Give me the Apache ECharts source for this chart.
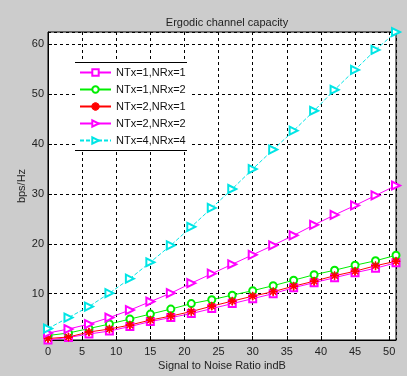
<!DOCTYPE html>
<html>
<head>
<meta charset="utf-8">
<script src="https://cdn.jsdelivr.net/npm/echarts@6/dist/echarts.min.js"></script>
<style>
  html, body { margin: 0; padding: 0; background: #cccccc; }
  #chart { width: 407px; height: 376px; }
</style>
</head>
<body>
<div id="chart"></div>
<script>
// SNR points (dB)
const snr = [0, 3, 6, 9, 12, 15, 18, 21, 24, 27, 30, 33, 36, 39, 42, 45, 48, 51];

// capacity (bps/Hz)
const cap1x1 = [0.7, 1.2, 1.9, 2.5, 3.4, 4.4, 5.2, 6.0, 7.0, 8.0, 9.0, 10.0, 11.2, 12.2, 13.2, 14.2, 15.1, 16.2];
const cap1x2 = [1.6, 2.1, 3.0, 3.9, 4.9, 5.9, 6.9, 8.0, 8.8, 9.7, 10.6, 11.6, 12.7, 13.8, 14.7, 15.7, 16.6, 17.7];
const cap2x1 = [1.0, 1.3, 2.3, 2.9, 3.7, 4.7, 5.5, 6.4, 7.5, 8.5, 9.5, 10.4, 11.5, 12.5, 13.6, 14.5, 15.6, 16.5];
const cap2x2 = [2.1, 2.9, 3.9, 5.2, 6.7, 8.4, 10.1, 12.1, 14.0, 15.9, 17.8, 19.7, 21.7, 23.8, 25.8, 27.7, 29.7, 31.7];
const cap4x4 = [3.0, 5.2, 7.4, 10.1, 13.0, 16.3, 19.7, 23.4, 27.2, 31.0, 35.0, 38.9, 42.7, 46.7, 50.9, 54.9, 58.9, 62.5];

const seriesNames = ['NTx=1,NRx=1', 'NTx=1,NRx=2', 'NTx=2,NRx=1', 'NTx=2,NRx=2', 'NTx=4,NRx=4'];
const seriesColors = ['#ff00ff', '#00ee00', '#ff0000', '#ff00ff', '#00e5e5'];

const font = '"Liberation Sans", Arial, sans-serif';
// asterisk marker: plus + cross as thin filled bars
const star = 'path://M4.5,0 L5.5,0 L5.5,4.5 L10,4.5 L10,5.5 L5.5,5.5 L5.5,10 L4.5,10 L4.5,5.5 L0,5.5 L0,4.5 L4.5,4.5 Z '
    + 'M1.2,1.9 L1.9,1.2 L8.8,8.1 L8.1,8.8 Z M8.1,1.2 L8.8,1.9 L1.9,8.8 L1.2,8.1 Z';

const pairs = ys => snr.map((x, i) => [x, ys[i]]);

// one line series
const mkSeries = (idx, ys, symbol, size, rotate, lineType) => ({
    name: seriesNames[idx],
    type: 'line',
    data: pairs(ys),
    symbol: symbol,
    symbolSize: size,
    symbolRotate: rotate,
    showSymbol: true,
    lineStyle: { color: seriesColors[idx], width: 1, type: lineType },
    itemStyle: { color: seriesColors[idx], borderColor: seriesColors[idx], borderWidth: 1 },
    emphasis: { disabled: true },
    animation: false
});

let myChart = echarts.init(document.getElementById('chart'));
myChart.setOption({
    backgroundColor: '#cccccc',
    title: {
        text: 'Ergodic channel capacity',
        left: 222,
        top: 12,
        textAlign: 'center',
        textStyle: { fontFamily: font, fontSize: 11, fontWeight: 'normal', color: '#222' }
    },
    grid: {
        left: 48, right: 11, top: 32, bottom: 35,
        show: true,
        backgroundColor: '#fff',
        borderColor: '#000',
        borderWidth: 1
    },
    legend: {
        orient: 'vertical',
        left: 75,
        top: 63,
        padding: [4, 4, 5, 4],
        itemGap: 6,
        itemWidth: 31,
        itemHeight: 8,
        backgroundColor: '#fff',
        data: seriesNames,
        textStyle: { fontFamily: font, fontSize: 11, color: '#111' }
    },
    xAxis: {
        type: 'value',
        min: 0,
        max: 51,
        interval: 5,
        name: 'Signal to Noise Ratio indB',
        nameLocation: 'middle',
        nameGap: 20,
        nameMoveOverlap: false,
        nameTextStyle: { fontFamily: font, fontSize: 11, color: '#222' },
        axisLine: { show: true, lineStyle: { color: '#000' } },
        axisTick: { show: true, inside: true, length: 4, lineStyle: { color: '#000' } },
        axisLabel: { fontFamily: font, fontSize: 11, color: '#222', margin: 6, showMaxLabel: false },
        splitLine: { show: true, lineStyle: { color: '#000', type: [3, 3], width: 1 } }
    },
    yAxis: {
        type: 'value',
        min: 0.7,
        max: 62.5,
        splitNumber: 6,
        name: 'bps/Hz',
        nameLocation: 'middle',
        nameGap: 21,
        nameMoveOverlap: false,
        nameTextStyle: { fontFamily: font, fontSize: 11, color: '#222' },
        axisLine: { show: true, lineStyle: { color: '#000' } },
        axisTick: { show: true, inside: true, length: 4, lineStyle: { color: '#000' } },
        axisLabel: { fontFamily: font, fontSize: 11, color: '#222', margin: 4, showMinLabel: false, showMaxLabel: false },
        splitLine: { show: true, lineStyle: { color: '#000', type: [3, 3], width: 1 } }
    },
    graphic: [
        { type: 'line', shape: { x1: 75, y1: 62.5, x2: 187, y2: 62.5 }, style: { stroke: '#000', lineWidth: 1 }, z: 100 },
        { type: 'line', shape: { x1: 75, y1: 150.5, x2: 187, y2: 150.5 }, style: { stroke: '#000', lineWidth: 1 }, z: 100 }
    ],
    series: [
        mkSeries(0, cap1x1, 'emptyRect', 7, 0, 'solid'),
        mkSeries(1, cap1x2, 'emptyCircle', 7, 0, 'solid'),
        mkSeries(2, cap2x1, star, 8, 0, 'solid'),
        mkSeries(3, cap2x2, 'emptyTriangle', 8, -90, 'solid'),
        mkSeries(4, cap4x4, 'emptyTriangle', 8, -90, [4, 2])
    ]
});
</script>
</body>
</html>
